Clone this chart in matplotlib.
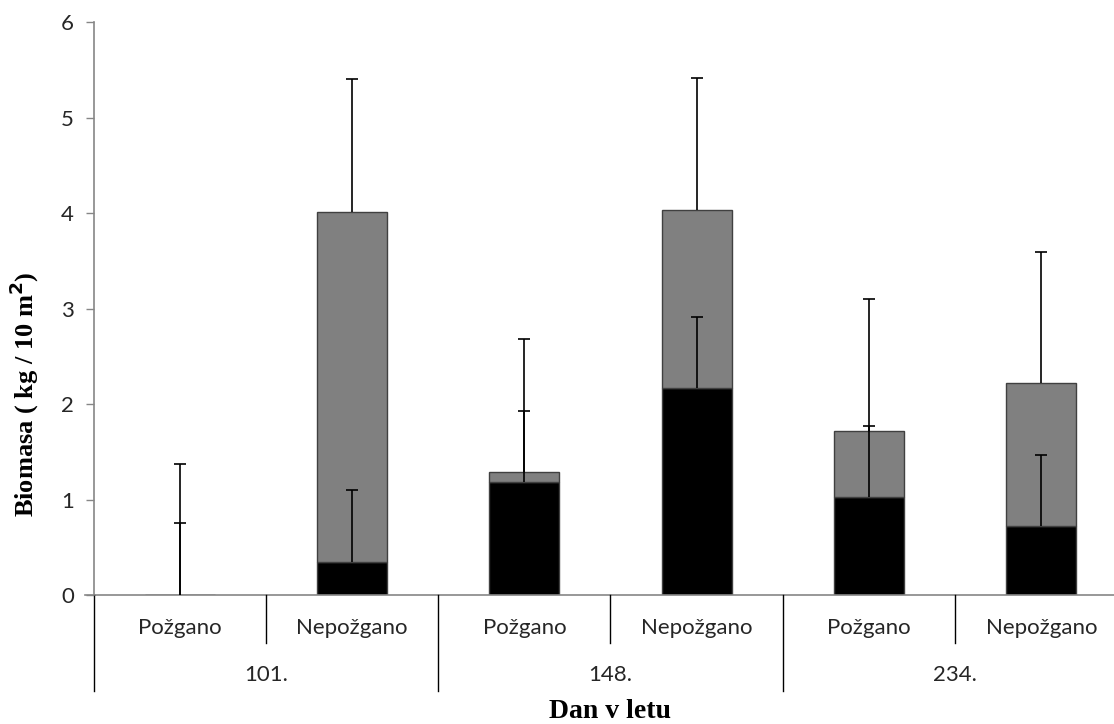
import numpy as np
import matplotlib.pyplot as plt
from matplotlib.transforms import blended_transform_factory

# biomasa po dnevih v letu, požgane in nepožgane ploskve
dnevi = ['101.', '148.', '234.']
ploskve = ['Požgano', 'Nepožgano']
spodnji = [0.0, 0.35, 1.18, 2.17, 1.03, 0.72]      # črni del stolpca
zgornji = [0.0, 3.66, 0.11, 1.86, 0.69, 1.50]      # sivi del stolpca
napaka_spodnji = [0.75, 0.75, 0.75, 0.74, 0.74, 0.75]
napaka_skupaj = [1.37, 1.39, 1.39, 1.38, 1.38, 1.37]

spodnji = np.array(spodnji)
zgornji = np.array(zgornji)
skupaj = spodnji + zgornji
x = np.arange(len(spodnji))

fig = plt.figure(figsize=(11.14, 7.24), dpi=100)
ax = fig.add_axes([93.5 / 1114, 1 - 595 / 724, 1034 / 1114, 573 / 724])

os_barva = '#868686'
sirina = 0.406
ax.bar(x, spodnji, sirina, color='black', edgecolor='#404040', linewidth=1, zorder=2)
ax.bar(x, zgornji, sirina, bottom=spodnji, color='#808080', edgecolor='#404040',
       linewidth=1, zorder=2)

# samo zgornji del napake, brez spodnje kapice
nic = np.zeros(len(x))
for dno, napaka in [(spodnji, napaka_spodnji), (skupaj, napaka_skupaj)]:
    _, kapice, _ = ax.errorbar(x, dno, yerr=[nic, napaka], fmt='none', ecolor='black',
                               elinewidth=1.2, capsize=4.5, capthick=1.2, zorder=3)
    kapice[0].set_visible(False)

ax.set_xlim(-0.5, len(x) - 0.5)
ax.set_ylim(0, 6)
ax.set_yticks(range(0, 7))
ax.tick_params(axis='y', direction='out', length=6, width=1, color=os_barva,
               labelsize=16, labelcolor='#262626', pad=8)
for t in ax.get_yticklabels():
    t.set_family('Lato')
ax.set_xticks([])

for s in ['top', 'right', 'bottom']:
    ax.spines[s].set_visible(False)
ax.spines['left'].set_color(os_barva)
ax.spines['left'].set_linewidth(1.2)

# os x z dvema nivojema oznak
tr = blended_transform_factory(ax.transData, ax.transAxes)
ax.plot([-0.55, len(x)], [0, 0], transform=tr, color=os_barva, lw=1.2, clip_on=False)
for i in range(len(x) + 1):
    konec = -0.1675 if i % 2 == 0 else -0.0838
    ax.plot([i - 0.5, i - 0.5], [0, konec], transform=tr, color='black', lw=1,
            clip_on=False)
for i, xi in enumerate(x):
    ax.text(xi, -0.057, ploskve[i % 2], transform=tr, ha='center', va='center',
            fontsize=16, family='Lato', color='#262626')
for j, d in enumerate(dnevi):
    ax.text(2 * j + 0.5, -0.139, d, transform=tr, ha='center', va='center',
            fontsize=16, family='Lato', color='#262626')

fig.text(610 / 1114, 1 - 711 / 724, 'Dan v letu', ha='center', va='center',
         fontsize=20, fontweight='bold', family='Liberation Serif')
fig.text(24 / 1114, 1 - 394 / 724, 'Biomasa ( kg / 10 m$^\\mathbf{2}$)', ha='center',
         va='center', rotation=90, fontsize=19, fontweight='bold',
         family='Liberation Serif')

fig.savefig('out.png', dpi=100, facecolor='white')
